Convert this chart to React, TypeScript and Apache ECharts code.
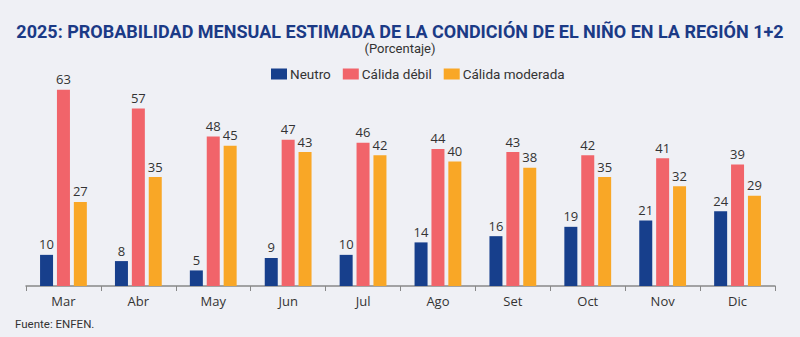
import React, { useEffect, useRef } from "react";
import * as echarts from "echarts";

const categories = ["Mar", "Abr", "May", "Jun", "Jul", "Ago", "Set", "Oct", "Nov", "Dic"];
const neutro = [10, 8, 5, 9, 10, 14, 16, 19, 21, 24];
const calidaDebil = [63, 57, 48, 47, 46, 44, 43, 42, 41, 39];
const calidaModerada = [27, 35, 45, 43, 42, 40, 38, 35, 32, 29];

const seriesNames = ["Neutro", "Cálida débil", "Cálida moderada"];
const colors = ["#173f8c", "#f1646a", "#f9a726"];

export default function App() {
  const ref = useRef<HTMLDivElement>(null);
  useEffect(() => {
    if (!ref.current) return;
    const chart = echarts.init(ref.current, undefined, { renderer: "svg" });
    const datas = [neutro, calidaDebil, calidaModerada];
    chart.setOption({
      animation: false,
      backgroundColor: "#eff0f5",
      title: [
        {
          text: "2025: PROBABILIDAD MENSUAL ESTIMADA DE LA CONDICIÓN DE EL NIÑO EN LA REGIÓN 1+2",
          left: "center",
          top: 17,
          textStyle: {
            fontFamily: "Liberation Sans Narrow, Roboto, sans-serif",
            fontWeight: "bold",
            fontSize: 18,
            color: "#1b3a86",
          },
        },
        {
          text: "(Porcentaje)",
          left: "center",
          top: 37,
          textStyle: {
            fontFamily: "Liberation Sans Narrow, Roboto, sans-serif",
            fontWeight: "normal",
            fontSize: 13,
            color: "#333",
          },
        },
        {
          text: "Fuente: ENFEN.",
          left: 10,
          top: 313,
          textStyle: {
            fontFamily: "Roboto, sans-serif",
            fontWeight: "normal",
            fontSize: 11.5,
            color: "#333",
          },
        },
      ],
      legend: {
        top: 62,
        left: 266,
        itemWidth: 16,
        itemHeight: 11,
        itemGap: 12,
        icon: "rect",
        textStyle: {
          fontFamily: "Liberation Sans Narrow, Roboto, sans-serif",
          fontSize: 13.5,
          color: "#333",
          padding: [0, 0, 0, -2],
        },
        data: seriesNames,
      },
      grid: { left: 26, right: 25, top: 68, bottom: 51 },
      xAxis: {
        type: "category",
        data: categories,
        axisLine: { lineStyle: { color: "#888", width: 1.5 } },
        axisTick: { show: true, length: 5, lineStyle: { color: "#888" } },
        axisLabel: {
          fontFamily: "Open Sans, sans-serif",
          fontSize: 13,
          color: "#333",
          margin: 8,
        },
      },
      yAxis: {
        type: "value",
        min: 0,
        max: 70,
        show: false,
        splitLine: { show: false },
      },
      series: datas.map((d, i) => ({
        name: seriesNames[i],
        type: "bar",
        data: d,
        barWidth: 13,
        barGap: "30%",
        itemStyle: { color: colors[i] },
        label: {
          show: true,
          position: "top",
          distance: 4,
          fontFamily: "Open Sans, sans-serif",
          fontSize: 13,
          color: "#333",
        },
      })),
    });
    return () => chart.dispose();
  }, []);
  return (
    <div
      ref={ref}
      style={{ position: "fixed", left: 0, top: 0, width: 800, height: 337 }}
    />
  );
}
